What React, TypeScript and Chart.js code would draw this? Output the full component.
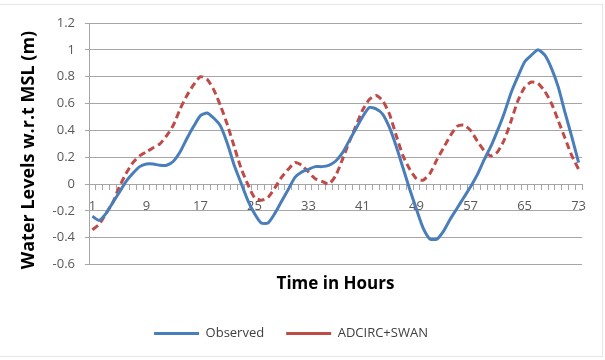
import React, { useEffect, useRef } from "react";
import { Chart, registerables } from "chart.js";

Chart.register(...registerables);

const hours: string[] = Array.from({ length: 73 }, (_, i) => String(i + 1));

const observed: number[] = [
  -0.24, -0.27, -0.22, -0.14, -0.06, 0.02, 0.08, 0.13, 0.15, 0.15,
  0.14, 0.14, 0.17, 0.24, 0.34, 0.43, 0.51, 0.53, 0.49, 0.43,
  0.30, 0.14, 0.01, -0.12, -0.22, -0.29, -0.29, -0.22, -0.13, -0.04,
  0.05, 0.09, 0.11, 0.13, 0.13, 0.14, 0.17, 0.23, 0.32, 0.41,
  0.50, 0.57, 0.56, 0.52, 0.42, 0.28, 0.12, -0.04, -0.19, -0.33,
  -0.41, -0.41, -0.35, -0.26, -0.18, -0.10, -0.02, 0.07, 0.18, 0.28,
  0.40, 0.53, 0.68, 0.80, 0.91, 0.96, 1.00, 0.96, 0.86, 0.72,
  0.53, 0.35, 0.16,
];

const adcircSwan: number[] = [
  -0.34, -0.30, -0.22, -0.14, -0.02, 0.08, 0.16, 0.21, 0.24, 0.27,
  0.30, 0.36, 0.44, 0.56, 0.66, 0.74, 0.80, 0.78, 0.70, 0.58,
  0.44, 0.28, 0.12, 0.00, -0.10, -0.12, -0.10, -0.03, 0.05, 0.11,
  0.16, 0.14, 0.09, 0.04, 0.02, 0.00, 0.06, 0.18, 0.31, 0.43,
  0.55, 0.63, 0.66, 0.62, 0.52, 0.36, 0.21, 0.11, 0.04, 0.03,
  0.08, 0.18, 0.27, 0.36, 0.43, 0.44, 0.40, 0.32, 0.25, 0.21,
  0.24, 0.33, 0.47, 0.62, 0.72, 0.76, 0.75, 0.69, 0.60, 0.47,
  0.34, 0.21, 0.11,
];

const seriesNames: string[] = ["Observed", "ADCIRC+SWAN"];
const yTitle = "Water Levels w.r.t MSL (m)";
const xTitle = "Time in Hours";

const FONT = "'Open Sans', 'Liberation Sans', sans-serif";
const GRID = "#a6a6a6";

export default function App() {
  const ref = useRef<HTMLCanvasElement | null>(null);

  useEffect(() => {
    document.body.style.margin = "0";
    const canvas = ref.current;
    if (!canvas) return;

    const frame = {
      id: "frame",
      beforeDraw(chart: any) {
        const ctx = chart.ctx;
        ctx.save();
        ctx.fillStyle = "#ffffff";
        ctx.fillRect(0, 0, chart.width, chart.height);
        ctx.strokeStyle = "#e6e6e6";
        ctx.lineWidth = 1;
        ctx.strokeRect(-1, 4.5, 603.5, 352);
        ctx.restore();
      },
      afterDraw(chart: any) {
        const ctx = chart.ctx;
        ctx.save();
        ctx.translate(29, 150);
        ctx.rotate(-Math.PI / 2);
        ctx.fillStyle = "#000000";
        ctx.font = `bold 18px ${FONT}`;
        ctx.textAlign = "center";
        ctx.textBaseline = "middle";
        ctx.fillText(yTitle, 0, 0);
        ctx.restore();
      },
    };

    const chart = new Chart(canvas, {
      type: "line",
      data: {
        labels: hours,
        datasets: [
          {
            label: seriesNames[0],
            data: observed,
            borderColor: "#4A7EBB",
            backgroundColor: "#4A7EBB",
            borderWidth: 3,
            pointRadius: 0,
            tension: 0.2,
            borderJoinStyle: "round",
          },
          {
            label: seriesNames[1],
            data: adcircSwan,
            borderColor: "#BE4B48",
            backgroundColor: "#BE4B48",
            borderWidth: 3,
            borderDash: [7, 4],
            pointRadius: 0,
            tension: 0.2,
          },
        ],
      },
      options: {
        animation: false,
        responsive: false,
        maintainAspectRatio: false,
        layout: { padding: { left: 0, right: 23, top: 23, bottom: 10 } },
        plugins: {
          tooltip: { enabled: false },
          legend: {
            position: "bottom",
            labels: {
              usePointStyle: true,
              pointStyle: "line",
              pointStyleWidth: 45,
              padding: 22,
              color: "#404040",
              font: { family: FONT, size: 13 },
            },
          },
          title: {
            display: true,
            text: xTitle,
            position: "bottom",
            fullSize: false,
            weight: 500,
            color: "#000000",
            font: { family: FONT, size: 17, weight: "bold" },
            padding: { top: 9, bottom: 11 },
          },
        },
        scales: {
          x: {
            type: "category",
            position: { y: 0 },
            offset: true,
            grid: {
              offset: true,
              drawOnChartArea: false,
              drawTicks: true,
              tickLength: 5,
              color: GRID,
            },
            border: { display: true, color: GRID },
            ticks: {
              autoSkip: false,
              maxRotation: 0,
              padding: 9,
              color: "#595959",
              font: { family: FONT, size: 13 },
              callback: (_v: any, i: number) => (i % 8 === 0 ? hours[i] : ""),
            },
          },
          y: {
            min: -0.6,
            max: 1.2,
            afterFit: (scale: any) => {
              scale.width = 89;
            },
            grid: { color: GRID, tickLength: 4 },
            border: { display: true, color: GRID },
            ticks: {
              stepSize: 0.2,
              padding: 10,
              color: "#595959",
              font: { family: FONT, size: 13 },
              callback: (v: any) => String(Number(Number(v).toFixed(1))),
            },
          },
        },
      },
      plugins: [frame],
    });

    return () => chart.destroy();
  }, []);

  return (
    <div style={{ width: 605, height: 360 }}>
      <canvas ref={ref} width={605} height={360} style={{ display: "block" }} />
    </div>
  );
}
